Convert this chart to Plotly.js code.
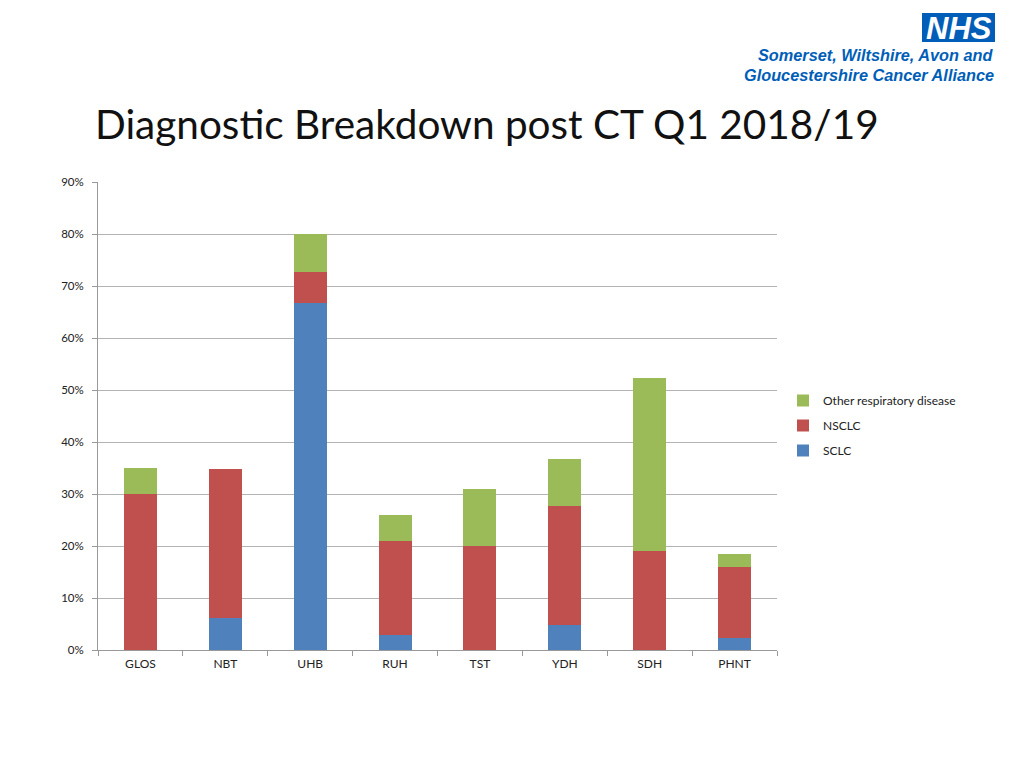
<!DOCTYPE html>
<html>
<head>
<meta charset="utf-8">
<script src="https://cdn.plot.ly/plotly-3.0.1.min.js"></script>
<style>html,body{margin:0;padding:0;background:#fff;}#chart{width:1024px;height:768px;}</style>
</head>
<body>
<div id="chart"></div>
<script>
const categories = ["GLOS", "NBT", "UHB", "RUH", "TST", "YDH", "SDH", "PHNT"];
const sclc = [0, 0.0615, 0.667, 0.029, 0, 0.048, 0, 0.024];
const nsclc = [0.30, 0.287, 0.060, 0.181, 0.20, 0.229, 0.19, 0.136];
const otherResp = [0.05, 0, 0.073, 0.05, 0.11, 0.09, 0.334, 0.025];
const yTicks = [0, 0.1, 0.2, 0.3, 0.4, 0.5, 0.6, 0.7, 0.8, 0.9];
const yTickLabels = ["0%", "10%", "20%", "30%", "40%", "50%", "60%", "70%", "80%", "90%"];

const font = "Lato, 'Open Sans', sans-serif";
function bar(name, y, color, g, rank) {
  return {type: "bar", name: name, x: categories, y: y, legendgroup: g, legendrank: rank,
    marker: {color: color, line: {width: 0}}, hoverinfo: "name+y"};
}
const data = [
  bar("SCLC", sclc, "#4F81BD", "a", 3),
  bar("NSCLC", nsclc, "#C0504D", "b", 2),
  bar("Other respiratory disease", otherResp, "#9BBB59", "c", 1)
];
const px = v => (v - 98) / 679;
const py = v => (650 - v) / 468;
const layout = {
  width: 1024, height: 768,
  margin: {l: 98, r: 247, t: 182, b: 118},
  paper_bgcolor: "#fff", plot_bgcolor: "#fff",
  barmode: "stack", bargap: 0.61,
  font: {family: font, color: "#222", size: 12},
  xaxis: {
    showgrid: false, showline: true, linecolor: "#999", linewidth: 1,
    ticks: "outside", tickson: "boundaries", ticklen: 5, tickcolor: "#999",
    ticklabelstandoff: 3,
    tickfont: {size: 12, family: font, color: "#222"}, fixedrange: true
  },
  yaxis: {
    range: [0, 0.9], tickvals: yTicks, ticktext: yTickLabels,
    showgrid: true, gridcolor: "#b3b3b3", gridwidth: 1,
    showline: true, linecolor: "#999", linewidth: 1,
    ticks: "outside", ticklen: 5, tickcolor: "#999", ticklabelstandoff: 6,
    tickfont: {size: 11.5, family: font, color: "#222"}, zeroline: false, fixedrange: true
  },
  legend: {
    x: px(783), y: py(386), xanchor: "left", yanchor: "top",
    traceorder: "grouped", tracegroupgap: 6,
    font: {size: 12, family: font, color: "#222"}, itemwidth: 30
  },
  shapes: [
    {type: "rect", xref: "paper", yref: "paper", x0: px(922), x1: px(995), y0: py(42), y1: py(13),
     fillcolor: "#005EB8", line: {width: 0}, layer: "above"}
  ],
  annotations: [
    {xref: "paper", yref: "paper", x: px(958.5), y: py(28), xanchor: "center", yanchor: "middle",
     text: "<b><i>NHS</i></b>", showarrow: false, font: {family: "Liberation Sans, Arial", size: 31, color: "#fff"}},
    {xref: "paper", yref: "paper", x: px(996), y: py(55), xanchor: "right", yanchor: "middle",
     text: "<b><i>Somerset, Wiltshire, Avon and</i></b>", showarrow: false,
     font: {family: "Liberation Sans, Arial", size: 16.3, color: "#005EB8"}},
    {xref: "paper", yref: "paper", x: px(996), y: py(75), xanchor: "right", yanchor: "middle",
     text: "<b><i>Gloucestershire Cancer Alliance</i></b>", showarrow: false,
     font: {family: "Liberation Sans, Arial", size: 16.3, color: "#005EB8"}},
    {xref: "paper", yref: "paper", x: px(93), y: py(123), xanchor: "left", yanchor: "middle",
     text: "Diagnostic Breakdown post CT Q1 2018/19", showarrow: false,
     font: {family: font, size: 40.5, color: "#111"}}
  ]
};
Plotly.newPlot("chart", data, layout, {displayModeBar: false, staticPlot: true});
</script>
</body>
</html>
